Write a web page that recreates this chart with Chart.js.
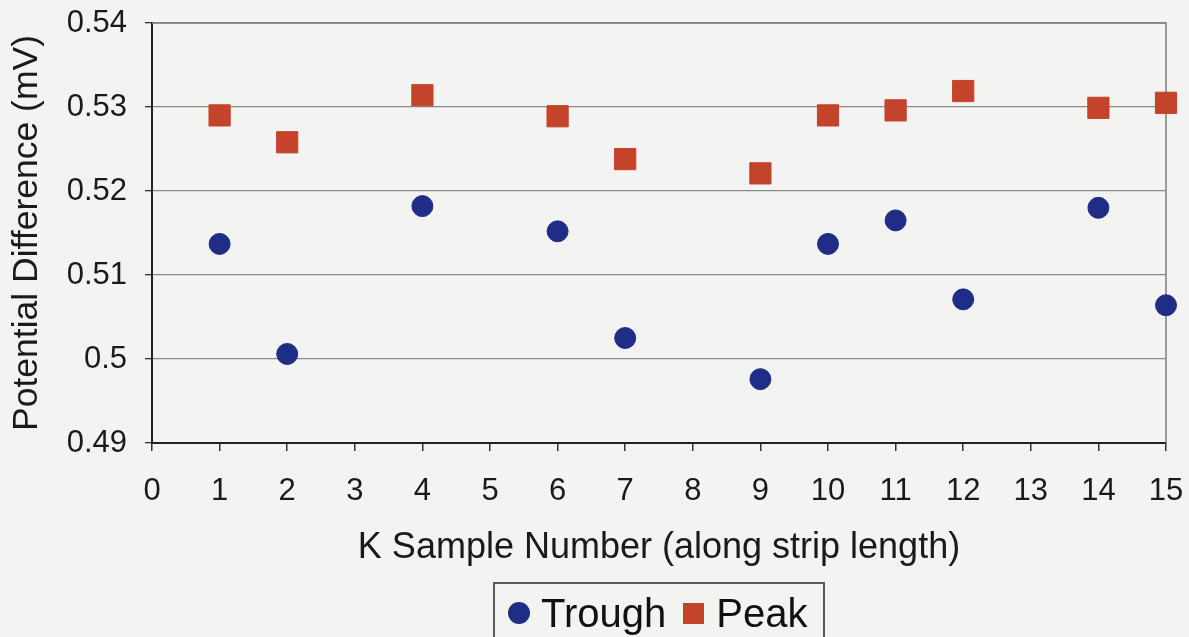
<!DOCTYPE html>
<html>
<head>
<meta charset="utf-8">
<script src="https://cdn.jsdelivr.net/npm/chart.js@4.4.1/dist/chart.umd.min.js"></script>
<style>
  html, body { margin: 0; padding: 0; background: #f3f3f2; }
  #wrap { position: relative; width: 1189px; height: 637px; overflow: hidden; }
  #legenda {
    position: absolute; left: 493px; top: 582px; width: 332px; height: 70px;
    border: 2px solid #5a5a5a; box-sizing: border-box;
    font-family: "Liberation Sans", Arial, sans-serif; font-size: 40px; color: #111;
    display: flex; align-items: flex-start; padding-top: 8px; padding-left: 13px;
  }
  #legenda .item { display: flex; align-items: center; margin-right: 17px; line-height: 42px; }
  #legenda .dot { width: 22px; height: 22px; border-radius: 50%; background: #1f2d86; margin-right: 11px; }
  #legenda .sq { width: 21px; height: 21px; background: #c4432b; margin-right: 12px; }
</style>
</head>
<body>
<div id="wrap">
  <canvas id="grafica" width="1189" height="637"></canvas>
  <div id="legenda">
    <span class="item"><span class="dot"></span>Trough</span>
    <span class="item"><span class="sq"></span>Peak</span>
  </div>
</div>
<script>
// muestras a lo largo de la tira
const muestras = [1, 2, 4, 6, 7, 9, 10, 11, 12, 14, 15];
const valle = [0.5137, 0.5006, 0.5182, 0.5152, 0.5025, 0.4976, 0.5137, 0.5165, 0.5071, 0.5180, 0.5064];
const pico = [0.5290, 0.5258, 0.5314, 0.5289, 0.5238, 0.5221, 0.5290, 0.5296, 0.5319, 0.5299, 0.5305];
const ticksY = [0.49, 0.50, 0.51, 0.52, 0.53, 0.54];

const COLOR_VALLE = "#1f2d86";
const COLOR_PICO = "#c4432b";

Chart.defaults.font.family = "'Liberation Sans', Arial, Helvetica, sans-serif";
Chart.defaults.color = "#1a1a1a";

// marco gris del área de trazado (arriba y derecha)
const pluginMarco = {
  id: "marcoArea",
  beforeDatasetsDraw(chart) {
    const { ctx, chartArea } = chart;
    ctx.save();
    ctx.strokeStyle = "#7d7d7d";
    ctx.lineWidth = 1.5;
    ctx.beginPath();
    ctx.moveTo(chartArea.left, chartArea.top);
    ctx.lineTo(chartArea.right, chartArea.top);
    ctx.lineTo(chartArea.right, chartArea.bottom);
    ctx.stroke();
    ctx.restore();
  }
};

new Chart(document.getElementById("grafica"), {
  type: "scatter",
  data: {
    datasets: [
      {
        label: "Trough",
        data: muestras.map((m, i) => ({ x: m, y: valle[i] })),
        backgroundColor: COLOR_VALLE,
        borderColor: COLOR_VALLE,
        pointStyle: "circle",
        pointRadius: 10.5,
        pointHoverRadius: 10.5,
        clip: false
      },
      {
        label: "Peak",
        data: muestras.map((m, i) => ({ x: m, y: pico[i] })),
        backgroundColor: COLOR_PICO,
        borderColor: COLOR_PICO,
        pointStyle: "rect",
        pointRadius: 15,
        pointHoverRadius: 15,
        clip: false
      }
    ]
  },
  plugins: [pluginMarco],
  options: {
    responsive: false,
    animation: false,
    layout: { padding: { top: 23, right: 23, left: 0, bottom: 0 } },
    plugins: {
      legend: { display: false },
      tooltip: { enabled: false }
    },
    scales: {
      x: {
        type: "linear",
        min: 0,
        max: 15,
        afterFit: s => {
          s.height = 194;
          s.paddingLeft = 0;
          s.paddingRight = 0;
        },
        ticks: {
          stepSize: 1,
          padding: 22,
          color: "#1a1a1a",
          font: { size: 31 }
        },
        grid: {
          drawOnChartArea: false,
          drawTicks: true,
          tickLength: 8,
          tickColor: "#333",
          lineWidth: 1.5
        },
        border: { color: "#222", width: 2 },
        title: {
          display: true,
          text: "K Sample Number (along strip length)",
          font: { size: 36 },
          color: "#1a1a1a",
          padding: { top: 0, bottom: 67 }
        }
      },
      y: {
        min: 0.49,
        max: 0.54,
        afterFit: s => {
          s.width = 152;
          s.paddingTop = 0;
          s.paddingBottom = 0;
        },
        afterBuildTicks: s => { s.ticks = ticksY.map(v => ({ value: v })); },
        ticks: {
          padding: 18,
          color: "#1a1a1a",
          font: { size: 31 },
          callback: v => String(Number(v.toFixed(2)))
        },
        grid: {
          color: "#8a8a8a",
          lineWidth: 1.3,
          tickLength: 7,
          tickColor: "#333"
        },
        border: { color: "#222", width: 2 },
        title: {
          display: true,
          text: "Potential Difference (mV)",
          font: { size: 35.5 },
          color: "#1a1a1a",
          padding: { top: 6, bottom: 0 }
        }
      }
    }
  }
});
</script>
</body>
</html>
